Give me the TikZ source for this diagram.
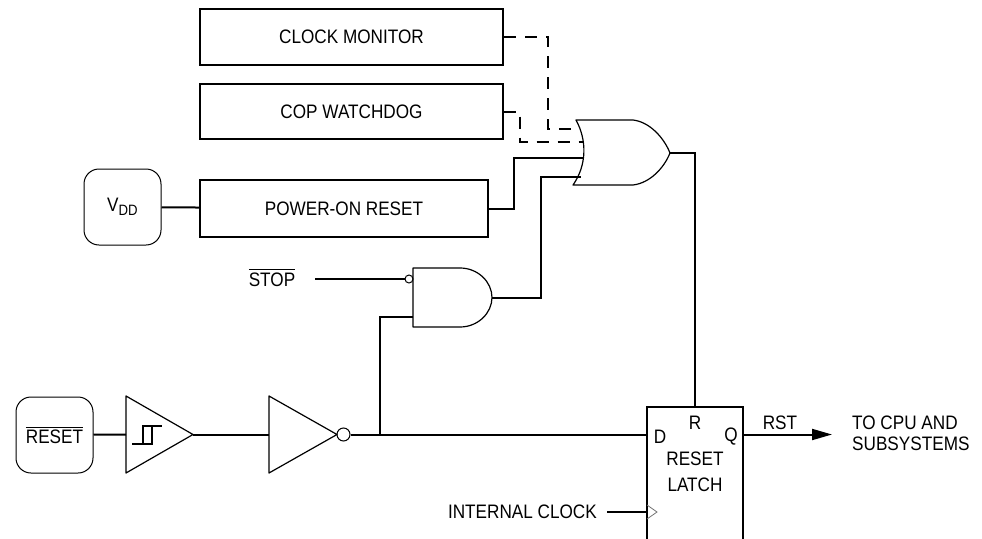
\documentclass[tikz,border=0pt]{standalone}
\usepackage{amsmath}
\usepackage{fontspec}
\setmainfont{Liberation Sans}[FakeStretch=0.88]
\usetikzlibrary{arrows.meta, calc}
\tikzstyle{block} = [rectangle, draw=black, line width=2pt, inner sep=0pt, text centered]
\tikzstyle{pad} = [rectangle, rounded corners=15pt, draw=black, line width=1pt, minimum width=77pt, minimum height=76pt, inner sep=0pt]
\tikzstyle{gate} = [draw=black, line width=1.2pt, line join=round]
\tikzstyle{clktri} = [draw=black!55, line width=0.8pt]
\tikzstyle{bubble} = [circle, draw=black, line width=1pt, inner sep=0pt]
\tikzstyle{lbl} = [inner sep=0pt]
\tikzstyle{wire} = [line width=2pt]
\tikzstyle{dwire} = [line width=2pt, dash pattern=on 12pt off 9pt]
\tikzstyle{arrow} = [line width=2pt, -{Triangle[length=20pt,width=11pt]}]
\newcommand{\notsig}[1]{$\overline{\mbox{#1}}$}
\newcommand{\subsig}[1]{\raisebox{-4pt}{\fontsize{15}{15}\selectfont #1}}

\begin{document}
\begin{tikzpicture}[x=1pt, y=-1pt, font=\fontsize{19.5}{22}\selectfont]
  \path[use as bounding box, clip] (0,0) rectangle (982,538);

  \node (clkmon) [block, minimum width=303pt, minimum height=56pt] at (351.5,37) {CLOCK MONITOR};
  \node (cop) [block, minimum width=303pt, minimum height=55pt] at (351.5,111.5) {COP WATCHDOG};
  \node (por) [block, minimum width=288pt, minimum height=57pt] at (344,208.5) {POWER-ON RESET};
  \node (vdd) [pad] at (122.5,207) {V\subsig{DD}};
  \node (rstpin) [pad] at (54.5,435) {\notsig{RESET}};

  % schmitt buffer
  \draw[gate] (126,396) -- (193,434.5) -- (126,473) -- cycle;
  \draw[wire] (132,444) -| (152,426) -- (162,426);
  \draw[wire] (143,444) |- (152,426);
  \coordinate (schin) at (126,434.5);
  \coordinate (schout) at (193,434.5);

  % inverter
  \draw[gate] (269,396) -- (337,434.5) -- (269,473) -- cycle;
  \coordinate (invin) at (269,434.5);
  \node (invbub) [bubble, minimum size=13pt] at (343.5,434.5) {};

  % and gate
  \draw[gate] (413,268) -- (460,268) .. controls (478,268) and (492,282) .. (492,297.5)
    .. controls (492,313) and (478,327) .. (460,327) -- (413,327) -- cycle;
  \node (andbub) [bubble, minimum size=8pt] at (409,279) {};
  \coordinate (andin) at (413,317);
  \coordinate (andout) at (492,297.5);

  % or gate
  \draw[gate] (576,120) -- (633,120) .. controls (650,122) and (664,138) .. (670,153)
    .. controls (664,168) and (650,183) .. (633,185) -- (573,185)
    .. controls (587,165) and (587,140) .. (576,120) -- cycle;
  \coordinate (orin1) at (579.5,129);
  \coordinate (orin2) at (583,142);
  \coordinate (orin3) at (584,158);
  \coordinate (orin4) at (580.5,177);
  \coordinate (orout) at (670,153);

  % latch
  \node (latch) [block, minimum width=96pt, minimum height=150pt, anchor=north] at (695,406) {};
  \draw[clktri] (647,505) -- (657,512) -- (647,519);
  \node (dlab) [lbl] at (660,437) {D};
  \node (rlab) [lbl] at (695,423) {R};
  \node (qlab) [lbl] at (731,437) {Q};
  \node (latchname) [lbl, align=center, font=\fontsize{19.5}{25.5}\selectfont] at (695,472) {RESET\\LATCH};
  \coordinate (latchd) at (invbub -| latch.west);
  \coordinate (latchq) at (invbub -| latch.east);
  \coordinate (latchclk) at (647,512);

  \node (stop) [lbl] at (272,277.5) {\notsig{STOP}};
  \coordinate (stopin) at (315,279);
  \node (clk) [lbl, anchor=east] at (597,512) {INTERNAL CLOCK};
  \node (rst) [lbl] at (780,423) {RST};
  \node (cpu) [lbl, align=left, anchor=west, font=\fontsize{19.5}{20.7}\selectfont] at (852,433.5) {TO CPU AND\\SUBSYSTEMS};
  \coordinate (junc) at (380,434.5);
  \coordinate (rstend) at (832,434.5);

  \draw [wire] (vdd) -- (por);
  \draw [wire] (rstpin) -- (schin);
  \draw [wire] (schout) -- (invin);
  \draw [wire] (invbub) -- (latchd);
  \draw [wire] (andin) -| (junc);
  \draw [wire] (stopin) -- (andbub);
  \draw [wire] (andout) -- ++(49,0) |- (orin4);
  \draw [wire] (por.east) -- ++(25,0) |- (orin3);
  \draw [dwire] (clkmon.east) -- ++(44,0) |- (orin1);
  \draw [dwire] (cop.east) -- ++(16,0) |- (orin2);
  \draw [wire] (orout) -| (latch.north);
  \draw [wire, shorten <=10pt] (clk.east) -- (latchclk);
  \draw [arrow] (latchq) -- (rstend);

\end{tikzpicture}
\end{document}
